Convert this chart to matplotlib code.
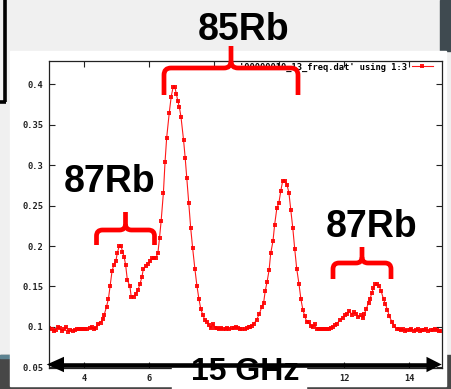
"""
Rb absorption spectrum (gnuplot screenshot) redrawn with matplotlib.
Saves out.png at 452x389 px.
"""

import matplotlib
matplotlib.use("Agg")
import matplotlib.pyplot as plt
from matplotlib.patches import Rectangle, PathPatch
from matplotlib.path import Path

# ------------------------------------------------------------------
# Data (x in GHz, y = signal)
# ------------------------------------------------------------------
freq_ghz = [
    2.93, 3.00, 3.06, 3.13, 3.19, 3.26, 3.32, 3.39, 3.45, 3.52,
    3.58, 3.65, 3.71, 3.78, 3.84, 3.91, 3.97, 4.04, 4.10, 4.17,
    4.23, 4.30, 4.37, 4.44, 4.51, 4.58, 4.62, 4.69, 4.75, 4.80,
    4.86, 4.91, 4.98, 5.02, 5.08, 5.14, 5.18, 5.23, 5.28, 5.33,
    5.41, 5.45, 5.52, 5.59, 5.65, 5.72, 5.78, 5.82, 5.90, 5.96,
    6.03, 6.08, 6.15, 6.20, 6.27, 6.32, 6.37, 6.44, 6.49, 6.54,
    6.62, 6.68, 6.74, 6.79, 6.84, 6.88, 6.93, 6.98, 7.06, 7.11,
    7.16, 7.22, 7.28, 7.34, 7.41, 7.47, 7.53, 7.59, 7.65, 7.71,
    7.78, 7.84, 7.90, 7.96, 8.03, 8.09, 8.16, 8.22, 8.28, 8.35,
    8.41, 8.47, 8.54, 8.61, 8.68, 8.74, 8.80, 8.87, 8.95, 9.00,
    9.06, 9.11, 9.16, 9.23, 9.31, 9.39, 9.47, 9.52, 9.57, 9.63,
    9.69, 9.74, 9.81, 9.86, 9.93, 9.99, 10.05, 10.11, 10.18, 10.24,
    10.30, 10.36, 10.42, 10.48, 10.54, 10.61, 10.67, 10.73, 10.79, 10.85,
    10.91, 10.98, 11.04, 11.09, 11.15, 11.22, 11.28, 11.34, 11.40, 11.46,
    11.52, 11.59, 11.67, 11.72, 11.78, 11.88, 11.96, 12.03, 12.10, 12.16,
    12.24, 12.31, 12.37, 12.44, 12.51, 12.58, 12.62, 12.68, 12.75, 12.80,
    12.85, 12.90, 12.95, 13.02, 13.08, 13.14, 13.21, 13.27, 13.33, 13.39,
    13.47, 13.54, 13.62, 13.68, 13.75, 13.81, 13.88, 13.94, 14.01, 14.07,
    14.14, 14.20, 14.27, 14.33, 14.40, 14.46, 14.53, 14.59, 14.66, 14.72,
    14.79, 14.85, 14.92, 14.98,
]

signal = [
    0.098, 0.097, 0.095, 0.096, 0.100, 0.098, 0.095, 0.097, 0.100, 0.094,
    0.096, 0.095, 0.096, 0.097, 0.097, 0.097, 0.097, 0.097, 0.097, 0.098,
    0.100, 0.097, 0.099, 0.104, 0.105, 0.110, 0.115, 0.125, 0.135, 0.150,
    0.169, 0.176, 0.182, 0.191, 0.200, 0.200, 0.193, 0.187, 0.176, 0.158,
    0.150, 0.137, 0.137, 0.141, 0.145, 0.153, 0.162, 0.171, 0.175, 0.178,
    0.181, 0.185, 0.185, 0.185, 0.191, 0.210, 0.231, 0.266, 0.304, 0.334,
    0.365, 0.385, 0.397, 0.397, 0.388, 0.380, 0.372, 0.360, 0.331, 0.309,
    0.284, 0.253, 0.222, 0.197, 0.171, 0.151, 0.135, 0.122, 0.115, 0.109,
    0.106, 0.102, 0.098, 0.104, 0.098, 0.099, 0.097, 0.098, 0.097, 0.097,
    0.098, 0.097, 0.098, 0.099, 0.100, 0.098, 0.097, 0.097, 0.097, 0.098,
    0.100, 0.100, 0.101, 0.104, 0.109, 0.116, 0.125, 0.129, 0.144, 0.156,
    0.170, 0.191, 0.206, 0.226, 0.247, 0.253, 0.268, 0.281, 0.281, 0.276,
    0.266, 0.244, 0.222, 0.196, 0.172, 0.153, 0.134, 0.121, 0.113, 0.106,
    0.106, 0.101, 0.100, 0.104, 0.097, 0.097, 0.097, 0.097, 0.097, 0.097,
    0.097, 0.098, 0.100, 0.102, 0.104, 0.109, 0.111, 0.115, 0.116, 0.120,
    0.115, 0.118, 0.116, 0.112, 0.114, 0.111, 0.116, 0.122, 0.130, 0.135,
    0.142, 0.148, 0.153, 0.153, 0.150, 0.144, 0.134, 0.128, 0.121, 0.113,
    0.106, 0.101, 0.097, 0.097, 0.096, 0.097, 0.095, 0.096, 0.096, 0.097,
    0.095, 0.096, 0.097, 0.095, 0.096, 0.096, 0.097, 0.095, 0.096, 0.096,
    0.097, 0.096, 0.095, 0.095,
]

x_ticks = [4, 6, 8, 10, 12, 14]
# 8 and 10 sit under the white "15 GHz" box in the screenshot
x_tick_labels = ["4", "6", "", "", "12", "14"]
y_ticks = [0.05, 0.1, 0.15, 0.2, 0.25, 0.3, 0.35, 0.4]
y_tick_labels = ["0.05", "0.1", "0.15", "0.2", "0.25", "0.3", "0.35", "0.4"]
legend_label = "'00000010_13_freq.dat' using 1:3"

W, H = 452, 389
MONO = dict(family="DejaVu Sans Mono", weight="bold", size=6.3)
BIG = dict(family="Liberation Sans", weight="bold", size=27)


def brace(ax, xl, xr, xm, ybar, ytip, yend, r, lw=3.4):
    """Red curly-brace style bracket in pixel coords (y grows downward)."""
    halves = [
        [(xl, yend), (xl, ybar + r), (xl, ybar), (xl + r, ybar),
         (xm - r, ybar), (xm, ybar), (xm, ybar - r), (xm, ytip)],
        [(xr, yend), (xr, ybar + r), (xr, ybar), (xr - r, ybar),
         (xm + r, ybar), (xm, ybar), (xm, ybar - r)],
    ]
    codes_l = [Path.MOVETO, Path.LINETO, Path.CURVE3, Path.CURVE3,
               Path.LINETO, Path.CURVE3, Path.CURVE3, Path.LINETO]
    codes_r = codes_l[:-1]
    for verts, codes in zip(halves, [codes_l, codes_r]):
        ax.add_patch(PathPatch(Path(verts, codes), fill=False, edgecolor="#ff0000",
                               lw=lw, capstyle="butt", joinstyle="round"))


fig = plt.figure(figsize=(W / 100, H / 100), dpi=100)
fig.patch.set_facecolor("#f0f0f0")

# ------------------------------------------------------------------
# Screenshot backdrop
# ------------------------------------------------------------------
bg = fig.add_axes([0, 0, 1, 1], zorder=0)
bg.set_xlim(0, W)
bg.set_ylim(H, 0)
bg.axis("off")
bg.add_patch(Rectangle((0, 355), W, H - 355, color="#474747"))
bg.add_patch(Rectangle((0, 355), 12, 3, color="#5d8391"))
bg.add_patch(Rectangle((440, 0), 12, 51, color="#3f4a50"))
bg.add_patch(Rectangle((10.5, 50.5), 435.5, 335.5, color="white"))
bg.plot([4.8, 4.8], [0, 101.5], color="black", lw=2.6, solid_capstyle="butt")
bg.plot([0, 6.2], [101.5, 101.5], color="black", lw=2.6, solid_capstyle="butt")

# ------------------------------------------------------------------
# gnuplot-style plot
# ------------------------------------------------------------------
ax = fig.add_axes([49.3 / W, (H - 368) / H, (441.7 - 49.3) / W, (368 - 61) / H], zorder=2)
ax.patch.set_alpha(0)
ax.plot(freq_ghz, signal, color="#ff0000", lw=0.8, alpha=0.9,
        marker="s", markersize=2.7, markeredgewidth=0, label=legend_label)
ax.set_xlim(2.93, 15.0)
ax.set_ylim(0.049, 0.429)
ax.set_xticks(x_ticks)
ax.set_xticklabels(x_tick_labels, **MONO)
ax.set_yticks(y_ticks)
ax.set_yticklabels(y_tick_labels, **MONO)
ax.tick_params(direction="in", length=4, width=0.8, top=True, right=True,
               colors="#222222", pad=4)
for s in ax.spines.values():
    s.set_linewidth(0.9)
    s.set_color("#222222")
leg = ax.legend(loc="upper right", bbox_to_anchor=(0.98, 0.998), frameon=False,
                markerfirst=False, handlelength=2.4, borderpad=0.1, borderaxespad=0,
                handletextpad=0.6, prop=dict(family="DejaVu Sans Mono", weight="bold", size=6.3))

# ------------------------------------------------------------------
# Slide annotations on top
# ------------------------------------------------------------------
ov = fig.add_axes([0, 0, 1, 1], zorder=5)
ov.set_xlim(0, W)
ov.set_ylim(H, 0)
ov.axis("off")
ov.patch.set_alpha(0)

brace(ov, 164, 298, 231, 68, 46, 95, 7)
brace(ov, 96.5, 154.5, 125.5, 230, 212, 245, 6)
brace(ov, 333, 391, 362, 263, 247, 279, 6)

ov.text(244, 40, "85Rb", ha="center", va="baseline", color="black", **BIG)
ov.text(110, 192, "87Rb", ha="center", va="baseline", color="black", **BIG)
ov.text(372, 237, "87Rb", ha="center", va="baseline", color="black", **BIG)

# 15 GHz double arrow
ov.plot([58, 432], [364.5, 364.5], color="black", lw=3.3, solid_capstyle="butt")
ov.fill([46.7, 64, 64], [364.5, 356.8, 372.2], color="black", lw=0)
ov.fill([441.7, 426.5, 426.5], [364.5, 356.8, 372.2], color="black", lw=0)
ov.add_patch(Rectangle((172, 355), 134, H - 355, color="white"))
ov.text(245.5, 380, "15 GHz", ha="center", va="baseline", color="black",
        family="Liberation Sans", weight="bold", size=23)

fig.savefig("out.png", dpi=100, facecolor=fig.get_facecolor())
